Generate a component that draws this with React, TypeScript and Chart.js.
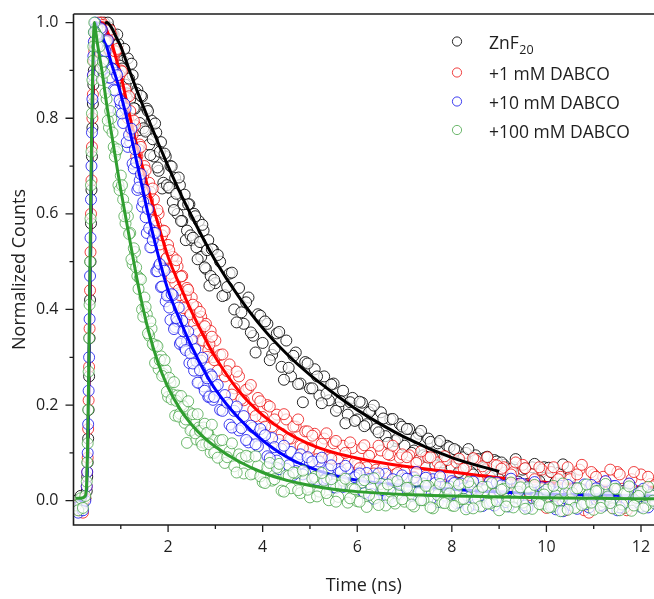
import { useEffect, useRef } from "react";
import { Chart, registerables } from "chart.js";

Chart.register(...registerables);

// ---------- measured data (time in ns), first sampling ----------
const timeNs = [
  0.05, 0.1, 0.15, 0.2, 0.25, 0.28, 0.3, 0.32, 0.34, 0.36, 0.38, 0.4, 0.42, 0.44, 0.46, 0.48, 0.5,
  0.55, 0.6, 0.65, 0.7, 0.75, 0.8, 0.85, 0.9, 0.95, 1.0,
  1.05, 1.1, 1.15, 1.2, 1.25, 1.3, 1.35, 1.4, 1.45, 1.5,
  1.55, 1.6, 1.65, 1.7, 1.75, 1.8, 1.85, 1.9, 1.95, 2.0,
  2.05, 2.1, 2.15, 2.2, 2.25, 2.3, 2.35, 2.4, 2.45, 2.5,
  2.55, 2.6, 2.65, 2.7, 2.75, 2.8, 2.85, 2.9, 2.95, 3.0,
  3.1, 3.2, 3.3, 3.4, 3.5, 3.6, 3.7, 3.8, 3.9, 4.0,
  4.1, 4.2, 4.3, 4.4, 4.5, 4.6, 4.7, 4.8, 4.9, 5.0,
  5.1, 5.2, 5.3, 5.4, 5.5, 5.6, 5.7, 5.8, 5.9, 6.0,
  6.1, 6.2, 6.3, 6.4, 6.5, 6.6, 6.7, 6.8, 6.9, 7.0,
  7.1, 7.2, 7.3, 7.4, 7.5, 7.6, 7.7, 7.8, 7.9, 8.0,
  8.1, 8.2, 8.3, 8.4, 8.5, 8.6, 8.7, 8.8, 8.9, 9.0,
  9.1, 9.2, 9.3, 9.4, 9.5, 9.6, 9.7, 9.8, 9.9, 10.0,
  10.1, 10.2, 10.3, 10.4, 10.5, 10.6, 10.7, 10.8, 10.9, 11.0,
  11.1, 11.2, 11.3, 11.4, 11.5, 11.6, 11.7, 11.8, 11.9, 12.0,
  12.1, 12.2, 12.3,
];

const znf20 = [
  0.0, -0.015, 0.01, -0.005, 0.005, 0.02, 0.08, 0.19, 0.34, 0.5, 0.65, 0.78, 0.87, 0.92, 0.95, 0.965, 0.975,
  0.985, 0.97, 1.0, 0.985, 0.99, 0.96, 0.975, 0.93, 0.955, 0.91,
  0.92, 0.87, 0.925, 0.84, 0.89, 0.82, 0.86, 0.79, 0.845, 0.775,
  0.82, 0.745, 0.795, 0.72, 0.77, 0.69, 0.75, 0.665, 0.72, 0.655,
  0.7, 0.625, 0.675, 0.6, 0.66, 0.585, 0.64, 0.565, 0.62, 0.545,
  0.6, 0.53, 0.585, 0.51, 0.565, 0.485, 0.545, 0.47, 0.525, 0.455,
  0.5, 0.43, 0.475, 0.4, 0.445, 0.37, 0.425, 0.345, 0.39, 0.33,
  0.37, 0.305, 0.35, 0.28, 0.335, 0.26, 0.31, 0.245, 0.29, 0.235,
  0.275, 0.22, 0.26, 0.21, 0.245, 0.195, 0.23, 0.18, 0.215, 0.17,
  0.205, 0.16, 0.19, 0.15, 0.185, 0.135, 0.17, 0.125, 0.16, 0.115,
  0.15, 0.105, 0.14, 0.095, 0.13, 0.09, 0.12, 0.08, 0.115, 0.07,
  0.105, 0.065, 0.1, 0.06, 0.095, 0.055, 0.09, 0.05, 0.085, 0.045,
  0.075, 0.045, 0.07, 0.04, 0.065, 0.035, 0.07, 0.04, 0.06, 0.05,
  0.06, 0.04, 0.055, 0.045, 0.05, null, null, null, null, null,
  null, null, null, null, null, null, null, null, null, null,
  null, null, null,
];

const dabco1 = [
  -0.01, -0.02, -0.005, -0.025, 0.005, 0.03, 0.09, 0.21, 0.36, 0.52, 0.67, 0.8, 0.89, 0.94, 0.965, 0.98, 0.99,
  0.99, 1.0, 0.97, 0.985, 0.945, 0.975, 0.925, 0.94, 0.885, 0.9,
  0.85, 0.86, 0.8, 0.815, 0.765, 0.785, 0.72, 0.745, 0.685, 0.7,
  0.645, 0.665, 0.61, 0.63, 0.575, 0.6, 0.545, 0.565, 0.505, 0.535,
  0.475, 0.51, 0.455, 0.49, 0.43, 0.47, 0.41, 0.445, 0.395, 0.425,
  0.37, 0.405, 0.35, 0.385, 0.335, 0.37, 0.315, 0.355, 0.3, 0.335,
  0.305, 0.26, 0.285, 0.235, 0.26, 0.21, 0.235, 0.19, 0.215, 0.175,
  0.2, 0.155, 0.18, 0.14, 0.17, 0.13, 0.155, 0.115, 0.145, 0.11,
  0.14, 0.1, 0.13, 0.09, 0.12, 0.085, 0.115, 0.08, 0.11, 0.075,
  0.11, 0.07, 0.1, 0.065, 0.105, 0.06, 0.095, 0.055, 0.09, 0.06,
  0.095, 0.05, 0.085, 0.045, 0.09, 0.04, 0.08, 0.05, 0.085, 0.035,
  0.08, 0.03, 0.07, 0.045, 0.085, 0.025, 0.065, 0.04, 0.075, 0.02,
  0.07, 0.01, 0.06, 0.035, 0.075, 0.0, 0.055, 0.025, 0.065, -0.015,
  0.06, 0.02, 0.05, -0.02, 0.045, 0.01, 0.065, -0.02, -0.025, 0.055,
  0.005, 0.05, 0.02, -0.015, 0.06, 0.025, -0.02, 0.045, 0.0, 0.055,
  -0.01, 0.035, 0.02,
];

const dabco10 = [
  -0.015, -0.025, -0.01, -0.02, 0.0, 0.03, 0.1, 0.23, 0.38, 0.55, 0.7, 0.84, 0.93, 0.98, 1.0, 0.99, 0.985,
  0.95, 0.985, 0.92, 0.96, 0.885, 0.905, 0.86, 0.895, 0.815, 0.83,
  0.79, 0.82, 0.74, 0.75, 0.705, 0.735, 0.65, 0.67, 0.615, 0.65,
  0.56, 0.57, 0.53, 0.56, 0.48, 0.49, 0.447, 0.485, 0.417, 0.43,
  0.378, 0.43, 0.363, 0.375, 0.328, 0.376, 0.32, 0.334, 0.288, 0.337,
  0.272, 0.292, 0.247, 0.293, 0.239, 0.26, 0.217, 0.264, 0.211, 0.238,
  0.19, 0.221, 0.159, 0.188, 0.147, 0.177, 0.122, 0.153, 0.114, 0.141,
  0.093, 0.131, 0.084, 0.108, 0.067, 0.102, 0.062, 0.097, 0.058, 0.079,
  0.045, 0.082, 0.044, 0.066, 0.028, 0.066, 0.029, 0.067, 0.035, 0.053,
  0.021, 0.058, 0.014, 0.048, 0.022, 0.056, 0.005, 0.039, 0.013, 0.047,
  0.011, 0.048, 0.002, 0.036, 0.019, 0.045, -0.003, 0.029, 0.008, 0.041,
  -0.005, 0.036, 0.012, 0.031, -0.008, 0.024, 0.006, 0.039, -0.01, 0.021,
  0.03, -0.012, 0.018, 0.004, 0.035, -0.015, 0.022, 0.001, 0.028, -0.006,
  0.019, -0.018, 0.031, 0.005, -0.009, 0.026, 0.0, 0.034, -0.014, 0.012,
  0.025, -0.011, 0.007, 0.03, -0.02, 0.016, -0.004, 0.027, 0.002, -0.013,
  0.021, 0.0, 0.014,
];

const dabco100 = [
  -0.01, -0.02, 0.005, -0.015, 0.01, 0.04, 0.12, 0.27, 0.41, 0.59, 0.73, 0.88, 0.95, 1.0, 0.98, 0.975, 0.95,
  0.95, 0.88, 0.895, 0.84, 0.78, 0.8, 0.74, 0.73, 0.66, 0.68,
  0.63, 0.58, 0.595, 0.56, 0.495, 0.52, 0.47, 0.465, 0.4, 0.425,
  0.39, 0.345, 0.36, 0.325, 0.325, 0.275, 0.302, 0.265, 0.273, 0.217,
  0.247, 0.222, 0.178, 0.22, 0.182, 0.2, 0.163, 0.121, 0.185, 0.149,
  0.168, 0.128, 0.153, 0.123, 0.153, 0.119, 0.14, 0.101, 0.127, 0.103,
  0.126, 0.079, 0.103, 0.072, 0.097, 0.057, 0.092, 0.057, 0.073, 0.039,
  0.07, 0.042, 0.069, 0.021, 0.053, 0.026, 0.058, 0.016, 0.044, 0.007,
  0.05, 0.019, 0.042, 0.001, 0.034, 0.008, 0.042, -0.004, 0.025, -0.001,
  0.038, -0.013, 0.027, 0.006, 0.035, -0.01, 0.019, -0.006, 0.033, -0.002,
  0.027, -0.012, 0.018, 0.001, 0.031, -0.016, 0.012, -0.004, 0.026, -0.01,
  0.02, 0.003, -0.018, 0.029, 0.002, -0.012, 0.022, -0.006, 0.014, -0.02,
  0.025, 0.0, -0.014, 0.019, -0.004, 0.028, -0.017, 0.008, -0.008, 0.023,
  -0.013, 0.011, -0.022, 0.016, 0.002, -0.015, 0.026, -0.005, 0.013, -0.019,
  0.021, -0.002, 0.009, -0.016, 0.024, -0.008, 0.015, -0.021, 0.006, 0.019,
  -0.011, 0.012, -0.006,
];

// ---------- measured data, interleaved second sampling ----------
const timeNsB = [
  0.29, 0.31, 0.33, 0.35, 0.37, 0.39, 0.41, 0.43,
  0.525, 0.575, 0.625, 0.675, 0.725, 0.775, 0.825, 0.875, 0.925, 0.975,
  1.025, 1.075, 1.125, 1.175, 1.225, 1.275, 1.325, 1.375, 1.425, 1.475,
  1.525, 1.575, 1.625, 1.675, 1.725, 1.775, 1.825, 1.875, 1.925, 1.975,
  2.025, 2.075, 2.125, 2.175, 2.225, 2.275, 2.325, 2.375, 2.425, 2.475,
  2.525, 2.575, 2.625, 2.675, 2.725, 2.775, 2.825, 2.875, 2.925, 2.975,
  3.05, 3.15, 3.25, 3.35, 3.45, 3.55, 3.65, 3.75, 3.85, 3.95,
  4.05, 4.15, 4.25, 4.35, 4.45, 4.55, 4.65, 4.75, 4.85, 4.95,
  5.05, 5.15, 5.25, 5.35, 5.45, 5.55, 5.65, 5.75, 5.85, 5.95,
  6.05, 6.15, 6.25, 6.35, 6.45, 6.55, 6.65, 6.75, 6.85, 6.95,
  7.05, 7.15, 7.25, 7.35, 7.45, 7.55, 7.65, 7.75, 7.85, 7.95,
  8.05, 8.15, 8.25, 8.35, 8.45, 8.55, 8.65, 8.75, 8.85, 8.95,
  9.05, 9.15, 9.25, 9.35, 9.45, 9.55, 9.65, 9.75, 9.85, 9.95,
  10.05, 10.15, 10.25, 10.35, 10.45, 10.55, 10.65, 10.75, 10.85, 10.95,
  11.05, 11.15, 11.25, 11.35, 11.45, 11.55, 11.65, 11.75, 11.85, 11.95,
  12.05, 12.15, 12.25,
];

const znf20B = [
  0.05, 0.13, 0.26, 0.42, 0.58, 0.72, 0.83, 0.9,
  0.94, 1.0, 0.93, 0.978, 1.0, 0.94, 0.975, 0.9, 0.975, 0.91,
  0.904, 0.945, 0.852, 0.883, 0.914, 0.821, 0.853, 0.775, 0.847, 0.779,
  0.772, 0.815, 0.723, 0.756, 0.789, 0.697, 0.73, 0.653, 0.726, 0.66,
  0.655, 0.699, 0.608, 0.642, 0.676, 0.585, 0.62, 0.545, 0.62, 0.555,
  0.55, 0.595, 0.505, 0.541, 0.577, 0.488, 0.524, 0.45, 0.526, 0.462,
  0.514, 0.428, 0.447, 0.477, 0.373, 0.394, 0.415, 0.352, 0.31, 0.387,
  0.375, 0.294, 0.318, 0.353, 0.253, 0.278, 0.303, 0.244, 0.206, 0.287,
  0.235, 0.26, 0.204, 0.224, 0.243, 0.188, 0.208, 0.162, 0.206, 0.167,
  0.207, 0.156, 0.185, 0.199, 0.143, 0.172, 0.121, 0.171, 0.13, 0.155,
  0.15, 0.1, 0.131, 0.146, 0.092, 0.123, 0.074, 0.125, 0.086, 0.112,
  0.108, 0.06, 0.091, 0.108, 0.055, 0.087, 0.04, 0.092, 0.054, 0.082,
  0.08, 0.034, 0.066, 0.087, 0.035, 0.068, 0.024, 0.077, 0.041, 0.07,
  0.069, 0.023, 0.058, 0.076, 0.028, null, null, null, null, null,
  null, null, null, null, null, null, null, null, null, null,
  null, null, null,
];

const dabco1B = [
  0.06, 0.15, 0.28, 0.44, 0.6, 0.74, 0.85, 0.92,
  1.0, 0.975, 0.995, 0.99, 0.965, 0.985, 0.925, 0.94, 0.945, 0.89,
  0.898, 0.831, 0.843, 0.846, 0.775, 0.795, 0.72, 0.735, 0.74, 0.68,
  0.691, 0.628, 0.646, 0.653, 0.586, 0.608, 0.536, 0.555, 0.564, 0.508,
  0.524, 0.467, 0.49, 0.503, 0.441, 0.469, 0.403, 0.427, 0.441, 0.39,
  0.41, 0.355, 0.38, 0.395, 0.335, 0.365, 0.301, 0.327, 0.343, 0.294,
  0.272, 0.306, 0.271, 0.222, 0.27, 0.213, 0.232, 0.242, 0.177, 0.208,
  0.155, 0.197, 0.17, 0.127, 0.181, 0.13, 0.155, 0.17, 0.11, 0.145,
  0.136, 0.087, 0.119, 0.141, 0.088, 0.125, 0.067, 0.1, 0.122, 0.08,
  0.068, 0.116, 0.094, 0.057, 0.115, 0.068, 0.097, 0.115, 0.058, 0.097,
  0.091, 0.045, 0.079, 0.103, 0.052, 0.091, 0.037, 0.07, 0.093, 0.052,
  0.039, 0.088, 0.067, 0.031, 0.089, 0.043, 0.072, 0.091, 0.035, 0.074,
  0.067, 0.02, 0.055, 0.08, 0.028, 0.068, 0.012, 0.045, 0.07, 0.03,
  0.01, 0.07, 0.045, -0.005, 0.07, 0.02, 0.055, 0.075, -0.01, 0.06,
  0.05, -0.01, 0.04, 0.065, -0.005, 0.055, -0.015, 0.035, 0.06, 0.015,
  0.005, 0.05, 0.03,
];

const dabco10B = [
  0.06, 0.16, 0.3, 0.47, 0.63, 0.77, 0.89, 0.96,
  0.955, 0.988, 0.918, 0.94, 0.963, 0.885, 0.903, 0.858, 0.89, 0.838,
  0.81, 0.83, 0.75, 0.765, 0.778, 0.695, 0.708, 0.655, 0.683, 0.625,
  0.593, 0.61, 0.53, 0.545, 0.56, 0.48, 0.495, 0.448, 0.481, 0.429,
  0.404, 0.432, 0.359, 0.382, 0.404, 0.332, 0.355, 0.315, 0.354, 0.308,
  0.287, 0.317, 0.247, 0.273, 0.299, 0.23, 0.256, 0.218, 0.26, 0.217,
  0.242, 0.188, 0.205, 0.153, 0.197, 0.152, 0.127, 0.157, 0.118, 0.15,
  0.137, 0.089, 0.112, 0.066, 0.115, 0.074, 0.054, 0.089, 0.055, 0.091,
  0.082, 0.043, 0.09, 0.047, 0.074, 0.027, 0.06, 0.073, 0.031, 0.049,
  0.057, 0.016, 0.045, 0.004, 0.057, 0.022, 0.006, 0.045, 0.014, 0.053,
  0.046, 0.01, 0.06, 0.019, 0.048, 0.003, 0.037, 0.051, 0.011, 0.03,
  0.037, -0.003, 0.026, -0.014, 0.04, 0.005, -0.011, 0.029, -0.002, 0.038,
  0.032, -0.003, 0.046, 0.006, 0.036, -0.01, 0.025, 0.039, 0.0, 0.019,
  0.028, -0.012, 0.018, -0.022, 0.033, -0.002, -0.017, 0.023, -0.007, 0.033,
  0.026, -0.009, 0.041, 0.001, 0.031, -0.014, 0.021, 0.036, -0.004, 0.016,
  0.025, -0.014, 0.01,
];

const dabco100B = [
  0.08, 0.19, 0.34, 0.5, 0.66, 0.81, 0.92, 0.98,
  0.97, 0.905, 0.918, 0.853, 0.795, 0.815, 0.77, 0.72, 0.735, 0.65,
  0.66, 0.595, 0.613, 0.558, 0.505, 0.528, 0.488, 0.443, 0.463, 0.385,
  0.405, 0.35, 0.375, 0.328, 0.288, 0.323, 0.294, 0.261, 0.294, 0.228,
  0.257, 0.212, 0.248, 0.209, 0.176, 0.219, 0.197, 0.17, 0.208, 0.147,
  0.181, 0.141, 0.181, 0.146, 0.116, 0.161, 0.142, 0.118, 0.159, 0.1,
  0.09, 0.127, 0.091, 0.12, 0.059, 0.089, 0.094, 0.055, 0.093, 0.051,
  0.037, 0.079, 0.045, 0.077, 0.019, 0.052, 0.059, 0.022, 0.063, 0.023,
  0.046, 0.009, 0.058, 0.016, 0.045, -0.002, 0.032, 0.046, 0.005, 0.024,
  -0.002, 0.043, 0.012, 0.047, -0.009, 0.025, 0.034, -0.001, 0.041, 0.003,
  0.027, -0.008, 0.042, 0.001, 0.031, -0.014, 0.021, 0.035, -0.005, 0.015,
  -0.011, 0.034, 0.004, 0.039, -0.016, 0.019, 0.029, -0.006, 0.037, -0.001,
  0.023, -0.012, 0.038, -0.002, 0.028, -0.017, 0.018, 0.033, -0.007, 0.013,
  -0.014, 0.031, 0.001, 0.036, -0.019, 0.016, 0.026, -0.009, 0.034, -0.004,
  0.02, -0.015, 0.035, -0.005, 0.025, -0.02, 0.015, 0.03, -0.01, 0.01,
  -0.016, 0.029, 0.0,
];

// ---------- fitted curves ----------
const fitTime = [
  0.05, 0.15, 0.25, 0.28, 0.3, 0.32, 0.34, 0.36, 0.38, 0.4, 0.42, 0.44, 0.46, 0.48, 0.5,
  0.55, 0.6, 0.65, 0.7, 0.8, 0.9, 1.0, 1.2, 1.4, 1.6, 1.8, 2.0,
  2.25, 2.5, 2.75, 3.0, 3.5, 4.0, 4.5, 5.0, 5.5, 6.0, 7.0, 8.0, 9.0, 10.0, 11.0, 12.3,
];
const fitZnf20 = [
  0, 0, 0.005, 0.02, 0.08, 0.19, 0.34, 0.5, 0.65, 0.78, 0.87, 0.92, 0.95, 0.965, 0.975,
  0.985, 0.99, 0.995, 1.0, 0.99, 0.97, 0.95, 0.895, 0.843, 0.794, 0.746, 0.7,
  0.645, 0.595, 0.547, 0.502, 0.426, 0.361, 0.308, 0.263, 0.225, 0.19, 0.133, 0.09, 0.061, null, null, null,
];
const fitDabco1 = [
  0, 0, 0.005, 0.03, 0.09, 0.21, 0.36, 0.52, 0.67, 0.8, 0.89, 0.94, 0.965, 0.98, 0.99,
  0.995, 1.0, 0.995, 0.985, 0.96, 0.925, 0.89, 0.8, 0.72, 0.645, 0.575, 0.51,
  0.45, 0.395, 0.345, 0.3, 0.229, 0.179, 0.143, 0.118, 0.101, 0.089, 0.072, 0.06, 0.048, 0.038, 0.032, 0.028,
];
const fitDabco10 = [
  0, 0, 0.005, 0.03, 0.1, 0.23, 0.38, 0.55, 0.7, 0.84, 0.93, 0.98, 1.0, 0.995, 0.99,
  0.98, 0.975, 0.96, 0.95, 0.915, 0.885, 0.85, 0.77, 0.68, 0.59, 0.51, 0.44,
  0.378, 0.322, 0.274, 0.233, 0.172, 0.126, 0.092, 0.069, 0.053, 0.043, 0.032, 0.024, 0.018, 0.014, 0.012, 0.01,
];
const fitDabco100 = [
  0.005, 0.005, 0.01, 0.04, 0.12, 0.26, 0.42, 0.58, 0.74, 0.87, 0.96, 1.0, 0.99, 0.975, 0.96,
  0.93, 0.9, 0.865, 0.83, 0.77, 0.71, 0.65, 0.54, 0.435, 0.35, 0.285, 0.237,
  0.192, 0.159, 0.133, 0.113, 0.082, 0.059, 0.043, 0.032, 0.024, 0.019, 0.013, 0.01, 0.008, 0.006, 0.005, 0.004,
];

// ---------- labels & ticks ----------
const legendMain = ["ZnF", "+1 mM DABCO", "+10 mM DABCO", "+100 mM DABCO"];
const legendSub = ["20", "", "", ""];
const xMajorTicks = [2, 4, 6, 8, 10, 12];
const xMinorTicks = [1, 3, 5, 7, 9, 11];
const yMajorTicks = [0, 0.2, 0.4, 0.6, 0.8, 1.0];
const yMinorTicks = [0.1, 0.3, 0.5, 0.7, 0.9];
const xTitle = "Time (ns)";
const yTitle = "Normalized Counts";

const markerColors = [
  "rgba(0,0,0,0.85)",
  "rgba(235,0,0,0.75)",
  "rgba(0,0,235,0.75)",
  "rgba(50,155,50,0.7)",
];
const lineColors = ["#000000", "#ff0000", "#0000ff", "#2f9e2f"];
// drawing order (higher = further back): scatter / fit per series
const scatterOrder = [8, 7, 4, 2];
const fitOrder = [6, 5, 3, 1];

const toPoints = (xs: number[], ys: (number | null)[]) =>
  xs
    .map((x, i) => ({ x, y: ys[i] }))
    .filter((p) => p.y !== null && p.y !== undefined) as { x: number; y: number }[];

const zeroPadding = (scale: any) => {
  scale.paddingLeft = 0;
  scale.paddingRight = 0;
  scale.paddingTop = 0;
  scale.paddingBottom = 0;
};

const framePlugin = {
  id: "frame",
  afterDraw(chart: any) {
    const { ctx, chartArea: a, scales } = chart;
    const xs = scales.x;
    const ys = scales.y;
    ctx.save();
    ctx.strokeStyle = "#1c1c1c";
    ctx.lineWidth = 1.6;
    ctx.beginPath();
    ctx.moveTo(a.left, a.top);
    ctx.lineTo(a.right, a.top);
    ctx.moveTo(a.left, a.top);
    ctx.lineTo(a.left, a.bottom);
    ctx.lineTo(a.right, a.bottom);
    ctx.stroke();
    ctx.lineWidth = 1.3;
    ctx.beginPath();
    xMajorTicks.forEach((v) => {
      const p = xs.getPixelForValue(v);
      ctx.moveTo(p, a.bottom);
      ctx.lineTo(p, a.bottom + 7);
    });
    xMinorTicks.forEach((v) => {
      const p = xs.getPixelForValue(v);
      ctx.moveTo(p, a.bottom);
      ctx.lineTo(p, a.bottom + 4);
    });
    yMajorTicks.forEach((v) => {
      const p = ys.getPixelForValue(v);
      ctx.moveTo(a.left, p);
      ctx.lineTo(a.left - 8, p);
    });
    yMinorTicks.forEach((v) => {
      const p = ys.getPixelForValue(v);
      ctx.moveTo(a.left, p);
      ctx.lineTo(a.left - 4, p);
    });
    ctx.stroke();

    // legend
    const circleX = 457;
    const textX = 489;
    const rowY = [44.5, 75.5, 104.5, 133];
    legendMain.forEach((label, i) => {
      const cy = rowY[i];
      ctx.beginPath();
      ctx.arc(circleX, cy - 3, 4.6, 0, Math.PI * 2);
      ctx.strokeStyle = markerColors[i];
      ctx.lineWidth = 1;
      ctx.stroke();
      ctx.fillStyle = "#1e1e1e";
      ctx.textBaseline = "middle";
      ctx.textAlign = "left";
      ctx.font = '17.5px "Open Sans"';
      ctx.fillText(label, textX, cy);
      if (legendSub[i]) {
        const w = ctx.measureText(label).width;
        ctx.font = '12.5px "Open Sans"';
        ctx.fillText(legendSub[i], textX + w + 0.5, cy + 6);
      }
    });
    ctx.restore();
  },
};

export default function App() {
  const ref = useRef<HTMLCanvasElement>(null);
  useEffect(() => {
    const canvas = ref.current;
    if (!canvas) return;
    Chart.defaults.font.family = '"Open Sans", sans-serif';
    Chart.defaults.color = "#1e1e1e";

    const seriesA = [znf20, dabco1, dabco10, dabco100];
    const seriesB = [znf20B, dabco1B, dabco10B, dabco100B];
    const fits = [fitZnf20, fitDabco1, fitDabco10, fitDabco100];
    const datasets: any[] = [];
    seriesA.forEach((s, i) => {
      datasets.push({
        label: legendMain[i] + legendSub[i],
        data: toPoints(timeNs, s).concat(toPoints(timeNsB, seriesB[i])),
        showLine: false,
        pointStyle: "circle",
        pointRadius: 5.5,
        pointBorderWidth: 1,
        pointBorderColor: markerColors[i],
        pointBackgroundColor: "rgba(255,255,255,0.7)",
        order: scatterOrder[i],
      });
      datasets.push({
        label: legendMain[i] + legendSub[i] + " fit",
        data: toPoints(fitTime, fits[i]),
        showLine: true,
        pointRadius: 0,
        borderColor: lineColors[i],
        borderWidth: 3,
        cubicInterpolationMode: "monotone",
        fill: false,
        order: fitOrder[i],
      });
    });

    const chart = new Chart(canvas, {
      type: "scatter",
      data: { datasets },
      plugins: [framePlugin],
      options: {
        animation: false,
        responsive: false,
        devicePixelRatio: 1,
        layout: { padding: { top: 14, right: 0, bottom: 0, left: 0 }, autoPadding: false } as any,
        plugins: { legend: { display: false }, tooltip: { enabled: false } },
        scales: {
          x: {
            type: "linear",
            min: 0,
            max: 12.275,
            grid: { display: false, drawTicks: false },
            border: { display: false },
            afterBuildTicks: (scale: any) => {
              scale.ticks = xMajorTicks.map((v) => ({ value: v }));
            },
            afterFit: (scale: any) => {
              scale.height = 74;
              zeroPadding(scale);
            },
            ticks: {
              padding: 13,
              font: { size: 16 },
              color: "#1e1e1e",
              maxRotation: 0,
              autoSkip: false,
              callback: (v: any) => String(v),
            },
            title: {
              display: true,
              text: xTitle,
              font: { size: 18 },
              color: "#1e1e1e",
              padding: { top: 0, bottom: 2 },
            },
          },
          y: {
            type: "linear",
            min: -0.0508,
            max: 1.018,
            grid: { display: false, drawTicks: false },
            border: { display: false },
            afterBuildTicks: (scale: any) => {
              scale.ticks = yMajorTicks.map((v) => ({ value: v }));
            },
            afterFit: (scale: any) => {
              scale.width = 73.5;
              zeroPadding(scale);
            },
            ticks: {
              padding: 15,
              font: { size: 16 },
              color: "#1e1e1e",
              autoSkip: false,
              callback: (v: any) => Number(v).toFixed(1),
            },
            title: {
              display: true,
              text: yTitle,
              font: { size: 18 },
              color: "#1e1e1e",
              padding: { top: 9, bottom: 0 },
            },
          },
        },
      },
    } as any);
    return () => chart.destroy();
  }, []);

  return (
    <div style={{ position: "absolute", left: 0, top: 0, width: 654, height: 599, background: "#fff" }}>
      <canvas ref={ref} width={654} height={599} style={{ display: "block", width: 654, height: 599 }} />
    </div>
  );
}
